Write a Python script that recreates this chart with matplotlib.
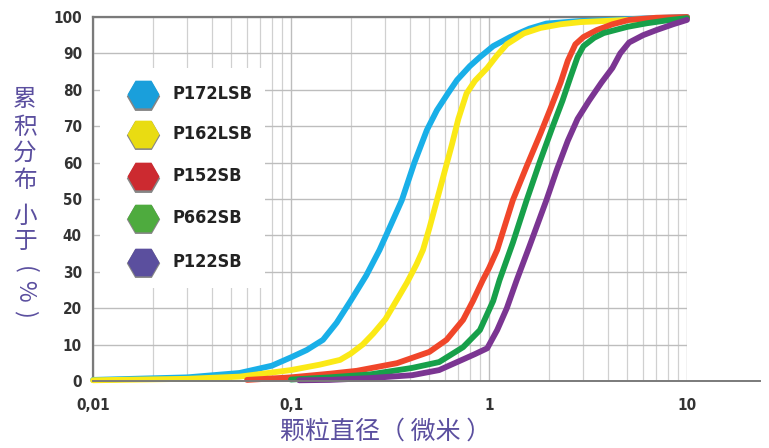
import matplotlib
matplotlib.use("Agg")
import matplotlib.pyplot as plt
from matplotlib.lines import Line2D
from matplotlib.patches import Rectangle

# particle size (um) vs cumulative % finer
names = ["P172LSB", "P162LSB", "P152SB", "P662SB", "P122SB"]

x_blue = [0.01, 0.03, 0.055, 0.08, 0.1, 0.12, 0.145, 0.17, 0.2, 0.24, 0.28, 0.32, 0.363, 0.42,
          0.486, 0.546, 0.62, 0.69, 0.8, 0.9, 1.05, 1.28, 1.6, 1.95, 2.9, 4.2, 6, 10]
y_blue = [0.3, 1.0, 2.2, 4.2, 6.5, 8.5, 11.3, 16, 22, 29, 36, 43, 49.7, 60,
          69, 74.4, 79, 82.7, 86.5, 89, 92, 94.5, 96.8, 98.2, 98.9, 99.2, 99.6, 100]

x_yel = [0.01, 0.03, 0.055, 0.1, 0.14, 0.177, 0.2, 0.23, 0.26, 0.3, 0.34, 0.385, 0.43, 0.464,
         0.5, 0.546, 0.6, 0.65, 0.7, 0.77, 0.85, 0.98, 1.1, 1.23, 1.5, 1.82, 2.3, 2.9, 5, 10]
y_yel = [0.2, 0.6, 1.2, 3.0, 4.5, 5.8, 7.5, 10, 13, 17, 22, 27, 32, 36,
         42, 49.7, 58, 65, 72, 79, 82.5, 86, 89.5, 92.5, 95.5, 97, 98, 98.6, 99.2, 99.7]

x_red = [0.06, 0.1, 0.157, 0.215, 0.343, 0.5, 0.61, 0.74, 0.83, 0.93, 1.0, 1.1, 1.32, 1.55,
         1.82, 2.05, 2.3, 2.5, 2.73, 3.0, 3.5, 4.2, 5.1, 7, 10]
y_red = [0.3, 1.0, 2.0, 2.8, 4.9, 8, 11.3, 16.8, 22, 27.7, 31, 36, 49.7, 59,
         68, 75, 82, 88, 92.5, 94.5, 96.4, 98, 99.2, 99.8, 100]

x_grn = [0.1, 0.157, 0.25, 0.41, 0.56, 0.74, 0.9, 1.05, 1.13, 1.32, 1.55, 1.8, 2.1, 2.35,
         2.58, 2.8, 3.0, 3.4, 3.8, 5, 6.3, 8, 10]
y_grn = [0.4, 1.0, 1.8, 3.6, 5.2, 9.3, 14, 22, 27.7, 38, 49.7, 60, 70, 77,
         83.5, 89, 92, 94.3, 95.6, 97.3, 98.3, 99.1, 99.7]

x_pur = [0.11, 0.157, 0.25, 0.41, 0.56, 0.69, 0.85, 0.98, 1.1, 1.23, 1.38, 1.6, 1.95, 2.2,
         2.5, 2.8, 3.2, 3.7, 4.2, 4.6, 5.1, 6, 7, 8.5, 10]
y_pur = [0.2, 0.3, 0.8, 1.6, 3.0, 5.2, 7.4, 9.0, 14, 20, 27.7, 37, 49.7, 58,
         66, 72, 77, 82, 86, 90, 93, 95, 96.4, 98, 99.2]

line_colors = ["#19afe8", "#fbe916", "#f0462a", "#17a04a", "#7b3592"]
hex_colors = ["#1a9fdb", "#e9dc12", "#cc2a30", "#4eab3e", "#5b4f9e"]
series = [(x_blue, y_blue), (x_yel, y_yel), (x_red, y_red), (x_grn, y_grn), (x_pur, y_pur)]

purple = "#5b4f9f"
cjk = ["Noto Sans CJK SC", "DejaVu Sans"]

fig = plt.figure(figsize=(7.69, 4.48), dpi=100)
ax = fig.add_axes([93 / 769, 1 - 381 / 448, 594 / 769, 364 / 448])

ax.set_xscale("log")
ax.set_xlim(0.01, 10)
ax.set_ylim(0, 100)
ax.set_yticks(range(0, 101, 10))
ax.set_xticks([0.01, 0.1, 1, 10])
ax.set_xticklabels(["0,01", "0,1", "1", "10"])
ax.grid(True, which="major", color="#bdbdbd", lw=1.0)
ax.grid(True, which="minor", axis="x", color="#d0d0d0", lw=0.9)
ax.tick_params(which="both", length=0, colors="#333333", labelsize=11)
ax.tick_params(axis="y", pad=8)
ax.tick_params(axis="x", pad=12)
for lab in ax.get_xticklabels() + ax.get_yticklabels():
    lab.set_fontweight("bold")
    lab.set_fontstretch("condensed")

for s in ["left", "top"]:
    ax.spines[s].set_color("#7a7a7a")
    ax.spines[s].set_linewidth(1.6)
ax.spines["right"].set_visible(False)
ax.spines["bottom"].set_visible(False)
# bottom axis line runs past the plot on the right
fig.add_artist(Line2D([93 / 769, 760 / 769], [1 - 381 / 448] * 2, color="#7a7a7a", lw=1.4))

for (xs, ys), c in zip(series, line_colors):
    ax.plot(xs, ys, color=c, lw=4.2, solid_joinstyle="round", solid_capstyle="round",
            clip_on=False, zorder=3)

# legend box with hexagon markers
ax.add_patch(Rectangle((0.012, 0.255), 0.278, 0.605, transform=ax.transAxes,
                       facecolor="white", edgecolor="none", zorder=4))
ys_leg = [0.788, 0.679, 0.563, 0.448, 0.327]
for name, c, yl in zip(names, hex_colors, ys_leg):
    ax.plot([0.084], [yl - 0.004], marker="H", ms=24, color="#222222", mec="none",
            alpha=0.55, transform=ax.transAxes, zorder=5)
    ax.plot([0.084], [yl], marker="H", ms=23, color=c, mec="none",
            transform=ax.transAxes, zorder=6)
    ax.text(0.133, yl, name, transform=ax.transAxes, va="center", ha="left",
            fontsize=13, fontweight="bold", fontstretch="condensed", color="#222222", zorder=7)

# vertical y label, CJK upright, brackets and % turned
ylab = [("累", 100, 0), ("积", 127, 0), ("分", 153, 0), ("布", 180, 0), ("小", 216, 0),
        ("于", 241, 0), ("(", 270, -90), ("%", 291, -90), (")", 314, -90)]
for ch, yp, rot in ylab:
    fig.text(25 / 769, 1 - yp / 448, ch, ha="center", va="center", rotation=rot,
             rotation_mode="anchor", fontsize=17, color=purple, family=cjk)

fig.text(386 / 769, 1 - 432 / 448, "颗粒直径（ 微米 ）", ha="center", va="center",
         fontsize=18, color=purple, family=cjk)

fig.savefig("out.png", dpi=100)
